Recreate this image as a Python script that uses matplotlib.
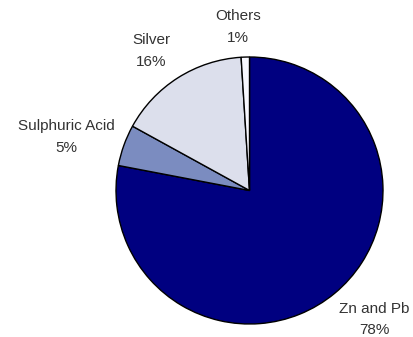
import matplotlib
matplotlib.use("Agg")
import matplotlib.pyplot as plt

categories = ["Zn and Pb", "Sulphuric Acid", "Silver", "Others"]
shares = [78, 5, 16, 1]
colors = ["#000080", "#7b8cc0", "#dcdfec", "#f8f8ff"]

W, H = 413, 337
fig = plt.figure(figsize=(W / 100, H / 100), dpi=100)
ax = fig.add_axes([0, 0, 1, 1])

cx, cy, r = 249.5, H - 190.5, 133.5
ax.pie(shares, colors=colors, startangle=90, counterclock=False,
       center=(cx, cy), radius=r, frame=True,
       wedgeprops=dict(edgecolor="black", linewidth=1.0))
ax.set_xlim(0, W)
ax.set_ylim(0, H)
ax.set_aspect("equal")
ax.axis("off")

label_pos = {
    "Zn and Pb": (374, 309),
    "Sulphuric Acid": (66, 126),
    "Silver": (151, 40),
    "Others": (238, 16),
}
for name, val in zip(categories, shares):
    x, y = label_pos[name]
    ax.text(x, H - y, name, ha="center", va="center", fontsize=11,
            family="Liberation Sans", color="#333333")
    ax.text(x, H - y - 21.5, f"{val}%", ha="center", va="center", fontsize=11,
            family="Liberation Sans", color="#333333")

fig.savefig("out.png", dpi=100)
